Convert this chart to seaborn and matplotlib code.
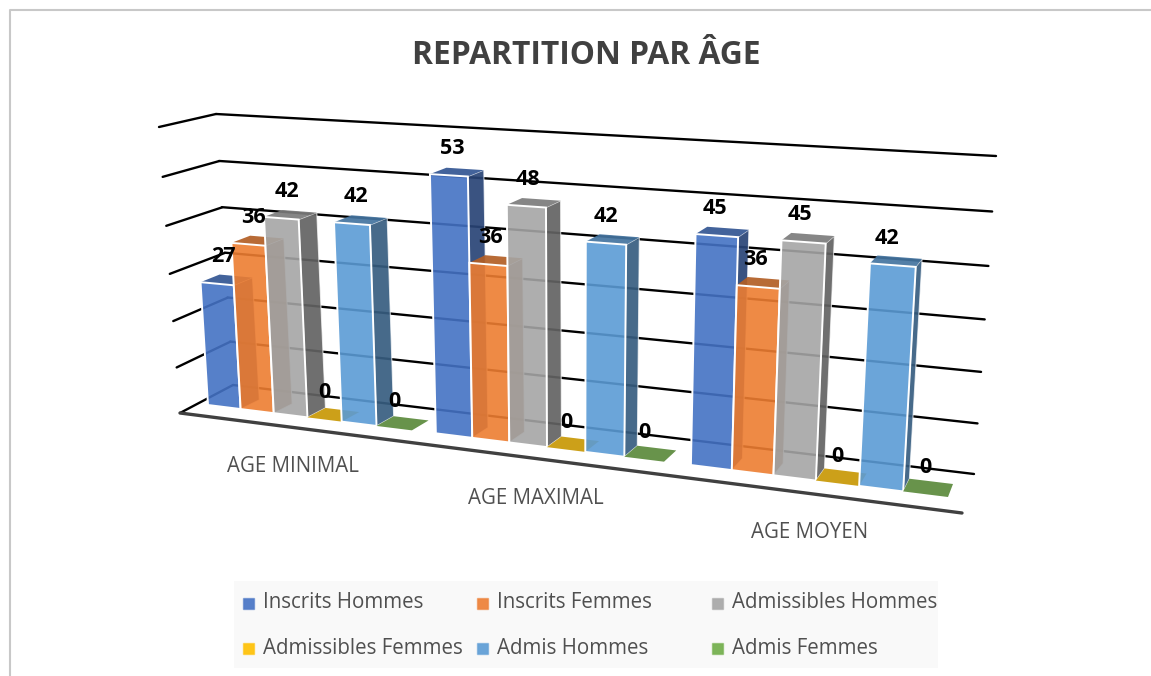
#!/usr/bin/python3
# plot.py - repartition par age, pseudo 3D bars drawn with seaborn
import numpy as np
import pandas as pd
import seaborn as sns
import matplotlib
matplotlib.use('Agg')
import matplotlib.pyplot as plt
from matplotlib.colors import to_rgba
from matplotlib.patches import Polygon, Rectangle
from matplotlib.transforms import Affine2D, Transform

# Data
#--------------------------------------------------------------------------------
categories = ['AGE MINIMAL', 'AGE MAXIMAL', 'AGE MOYEN']
series = ['Inscrits Hommes', 'Inscrits Femmes', 'Admissibles Hommes',
          'Admissibles Femmes', 'Admis Hommes', 'Admis Femmes']
inscrits_hommes = [27, 53, 45]
inscrits_femmes = [36, 36, 36]
admissibles_hommes = [42, 48, 45]
admissibles_femmes = [0, 0, 0]
admis_hommes = [42, 42, 42]
admis_femmes = [0, 0, 0]
colors = ['#4472C4', '#ED7D31', '#A5A5A5', '#FFC000', '#5B9BD5', '#70AD47']
grid_values = [0, 10, 20, 30, 40, 50, 60]
title = 'REPARTITION PAR ÂGE'

W, H = 1151, 676
FONT = 'Open Sans'


class PlaneTransform(Transform):
    "Homography taking (x, value) on a plane of the fake 3D box to image pixels."
    input_dims = 2
    output_dims = 2
    is_separable = False
    has_inverse = False

    def __init__(self, src, dst):
        super().__init__()
        A, b = [], []
        for (x, y), (u, v) in zip(src, dst):
            A.append([x, y, 1, 0, 0, 0, -u * x, -u * y])
            A.append([0, 0, 0, x, y, 1, -v * x, -v * y])
            b += [u, v]
        self.m = np.append(np.linalg.solve(np.array(A, float), np.array(b, float)), 1).reshape(3, 3)

    def transform_non_affine(self, values):
        values = np.asarray(values, float)
        p = np.column_stack([values, np.ones(len(values))]) @ self.m.T
        return p[:, :2] / p[:, 2:]


def plane(x0, x1, y0, y1, corners):
    return PlaneTransform([(x0, y0), (x1, y0), (x1, y1), (x0, y1)], corners)


def darker(color, f, alpha=0.92):
    r, g, b, _ = to_rgba(color)
    return (r * f, g * f, b * f, alpha)


# Plot
#--------------------------------------------------------------------------------
sns.set_theme(style='white')
plt.rcParams['font.family'] = [FONT, 'DejaVu Sans']

df = pd.DataFrame({'categorie': categories, series[0]: inscrits_hommes, series[1]: inscrits_femmes,
                   series[2]: admissibles_hommes, series[3]: admissibles_femmes,
                   series[4]: admis_hommes, series[5]: admis_femmes})
df_melted = df.melt(id_vars='categorie', var_name='serie', value_name='valeur')

fig = plt.figure(figsize=(W / 100, H / 100), dpi=100, facecolor='white')
ax = fig.add_axes([0, 0, 1, 1])
sns.barplot(df_melted, x='categorie', y='valeur', hue='serie', hue_order=series, palette=colors,
            width=0.9, gap=0, saturation=1, legend=False, ax=ax)
ax.axis('off')

# pixels (y down) to the figure
px = Affine2D().scale(1 / W, -1 / H).translate(0, 1) + fig.transFigure

XL, XR, TOP = -0.45, 2.45, 60
front = plane(XL, XR, 0, TOP, [(208, 405), (948, 497), (969, 168), (191, 125)])
back = plane(XL, XR, 0, TOP, [(227, 396), (953, 484), (974, 162), (210, 119)])
wall = plane(XL, XR, 0, TOP, [(233, 385), (974, 474), (996, 156), (216, 114)])
side_wall = plane(0, 1, 0, TOP, [(180, 413), (233, 385), (216, 114), (159, 127)])

# Grid on the back wall and on the left wall
for v in grid_values:
    ax.plot([XL, XR], [v, v], color='black', lw=1.7, transform=wall + px, zorder=1, clip_on=False)
    ax.plot([0, 1], [v, v], color='black', lw=1.7, transform=side_wall + px, zorder=1, clip_on=False)

# Floor front edge
ax.plot([180, 962], [413, 513], color='#404040', lw=2.4, transform=px, zorder=1, clip_on=False)

# Turn every seaborn bar into a box
for hue_i, container in enumerate(ax.containers):
    color = colors[hue_i]
    for bar in container:
        x0, x1 = bar.get_x(), bar.get_x() + bar.get_width()
        h = bar.get_height()
        z = 3 + (x0 - XL) * 3

        f = lambda x, y: front.transform_non_affine([[x, y]])[0]
        b = lambda x, y: back.transform_non_affine([[x, y]])[0]

        if h > 0:
            ax.add_patch(Polygon([f(x1, 0), b(x1, 0), b(x1, h), f(x1, h)], closed=True,
                                 facecolor=darker(color, 0.6), edgecolor=(1, 1, 1, 0.7), lw=0.8,
                                 transform=px, zorder=z, clip_on=False))
            ax.add_patch(Polygon([f(x0, h), f(x1, h), b(x1, h), b(x0, h)], closed=True,
                                 facecolor=darker(color, 0.75), edgecolor='none',
                                 transform=px, zorder=z + 0.01, clip_on=False))
            bar.set_transform(front + px)
            bar.set_facecolor(to_rgba(color, 0.9))
            bar.set_edgecolor('white')
            bar.set_linewidth(1.4)
            bar.set_clip_on(False)
            bar.set_zorder(z + 0.02)
        else:
            # zero value: only the lid is left on the floor
            ax.add_patch(Polygon([f(x0, 0), f(x1, 0), b(x1, 0), b(x0, 0)], closed=True,
                                 facecolor=darker(color, 0.78, 0.9), edgecolor='none',
                                 transform=px, zorder=z, clip_on=False))
            bar.set_visible(False)

        # value label
        xc = (x0 + x1) / 2
        lx, ly = f(xc, h)
        dx = b(xc, h)[0] - lx - 13 if h > 0 else 0
        ax.text(lx + dx, ly - 27, f'{h:.0f}', color='black', fontsize=15.5, fontweight='bold',
                ha='center', va='center', transform=px, zorder=50, clip_on=False)

# Category labels
for label, (x, y) in zip(categories, [(293, 467), (536, 499), (810, 533)]):
    ax.text(x, y, label, color='#505050', fontsize=14.8, ha='center', va='center', transform=px)

# Title
ax.text(586, 55, title, color='#404040', fontsize=22.9, fontweight='bold', ha='center', va='center', transform=px)

# Legend, equal columns like the office one
ax.add_patch(Rectangle((234, 581), 704, 87, facecolor='#F9F9F9', edgecolor='none', transform=px, zorder=0))
for i, name in enumerate(series):
    row, col = i // 3, i % 3
    x = 243 + col * 234.5
    y = 603 + row * 45
    ax.add_patch(Rectangle((x, y - 5), 11, 11, facecolor=to_rgba(colors[i], 0.9), edgecolor=to_rgba(colors[i], 0.5),
                           lw=1, transform=px, zorder=2, clip_on=False))
    ax.text(x + 20, y, name, color='#505050', fontsize=14.8, ha='left', va='center', transform=px, clip_on=False)

# Chart frame
ax.plot([10, 10, W], [H, 10, 10], color='#C8C8C8', lw=1.5, transform=px, clip_on=False, zorder=0)

plt.savefig('out.png', dpi=100)
plt.close()
